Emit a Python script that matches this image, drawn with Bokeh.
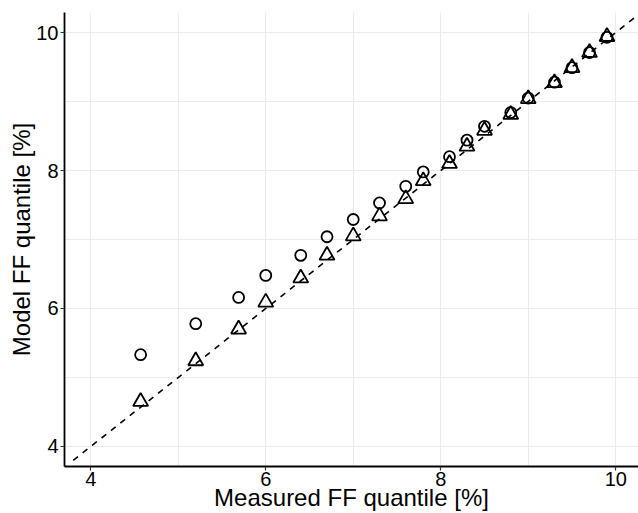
from bokeh.plotting import figure
from bokeh.models import Range1d, SingleIntervalTicker
from bokeh.embed import file_html
from bokeh.resources import INLINE

# Measured FF quantiles [%]
measured = [4.57, 5.20, 5.69, 6.00, 6.40, 6.70, 7.00, 7.30, 7.60, 7.80,
            8.10, 8.30, 8.50, 8.80, 9.00, 9.30, 9.50, 9.70, 9.90]
# Model FF quantiles [%] - circle series
model_circle = [5.33, 5.78, 6.16, 6.48, 6.77, 7.04, 7.29, 7.53, 7.77, 7.98,
                8.20, 8.44, 8.64, 8.84, 9.05, 9.28, 9.49, 9.71, 9.93]
# Model FF quantiles [%] - triangle series
model_triangle = [4.65, 5.24, 5.70, 6.09, 6.44, 6.77, 7.05, 7.34, 7.59, 7.85,
                  8.10, 8.35, 8.58, 8.81, 9.04, 9.27, 9.49, 9.71, 9.94]
# 1:1 reference line
identity = [3.8, 10.3]

tick_interval = 2
FONT = "Liberation Sans"

p = figure(width=638, height=513, output_backend="svg", toolbar_location=None,
           x_range=Range1d(3.7, 10.26), y_range=Range1d(3.71, 10.29),
           min_border_left=64, min_border_right=0, min_border_top=12,
           min_border_bottom=0)
p.outline_line_color = None
p.background_fill_color = "white"
p.border_fill_color = "white"

for ax in (p.xaxis[0], p.yaxis[0]):
    ax.ticker = SingleIntervalTicker(interval=tick_interval, num_minor_ticks=2)
    ax.axis_line_color = "black"
    ax.axis_line_width = 1.8
    ax.major_tick_out = 4
    ax.major_tick_in = 0
    ax.major_tick_line_color = "#333333"
    ax.major_tick_line_width = 1.2
    ax.minor_tick_out = 0
    ax.minor_tick_in = 0
    ax.major_label_text_font = FONT
    ax.major_label_text_font_size = "20px"
    ax.major_label_text_color = "black"
    ax.axis_label_text_font = FONT
    ax.axis_label_text_font_size = "24px"
    ax.axis_label_text_font_style = "normal"
    ax.axis_label_text_color = "black"

p.xaxis.axis_label = "Measured FF quantile [%]"
p.yaxis.axis_label = "Model FF quantile [%]"
p.xaxis.major_label_standoff = 1
p.xaxis.axis_label_standoff = -5
p.yaxis.major_label_standoff = 2
p.yaxis.axis_label_standoff = -2

for g in (p.xgrid[0], p.ygrid[0]):
    g.grid_line_color = "#EBEBEB"
    g.grid_line_width = 1
    g.minor_grid_line_color = "#EBEBEB"
    g.minor_grid_line_width = 1

p.line(identity, identity, line_color="black", line_width=1.6, line_dash="6 6")

p.scatter(measured, model_circle, marker="circle", size=11,
          fill_color=None, line_color="black", line_width=1.8)
p.scatter(measured, model_triangle, marker="triangle", size=15,
          fill_color=None, line_color="black", line_width=1.8)

open("out.html", "w").write(file_html(p, INLINE))
